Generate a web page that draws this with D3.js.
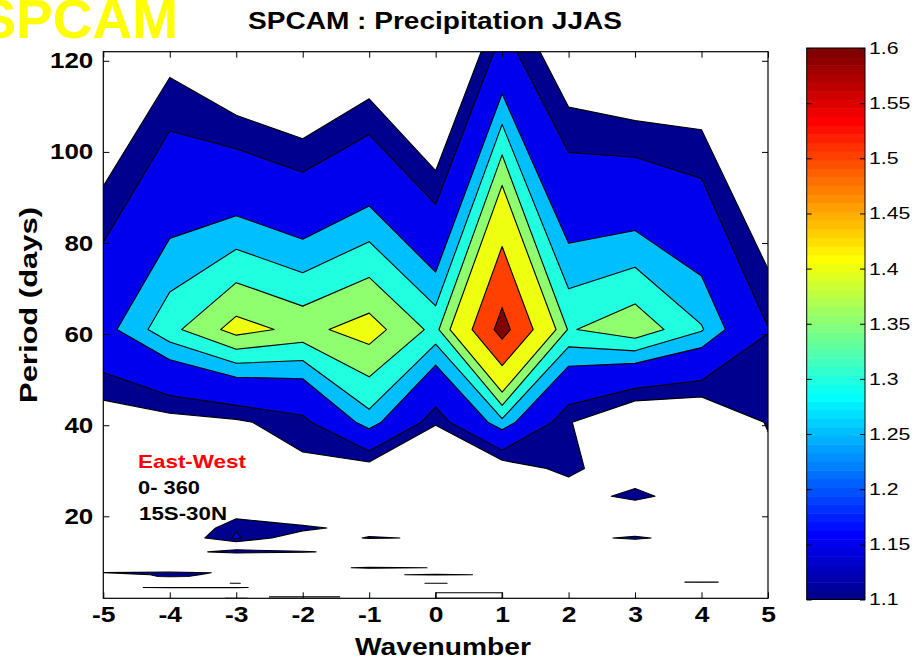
<!DOCTYPE html>
<html>
<head>
<meta charset="utf-8">
<script src="https://cdn.jsdelivr.net/npm/d3@7"></script>
<style>
  html, body { margin: 0; padding: 0; background: #fff; }
  svg { display: block; font-family: "Liberation Sans", Arial, sans-serif; }
</style>
</head>
<body>
<svg id="chart" width="916" height="659"></svg>
<script>
// ---- grid coordinates ----------------------------------------------------
const wavenumbers = [-5, -4, -3, -2, -1, 0, 1, 2, 3, 4, 5];
// periods (days) of the 61 resolved harmonics of the 122-day JJAS season
const periods = [
  122, 61, 40.667, 30.5, 24.4, 20.333, 17.429, 15.25, 13.556, 12.2,
  11.091, 10.167, 9.385, 8.714, 8.133, 7.625, 7.176, 6.778, 6.421, 6.1,
  5.81, 5.545, 5.304, 5.083, 4.88, 4.692, 4.519, 4.357, 4.207, 4.067,
  3.935, 3.813, 3.697, 3.588, 3.486, 3.389, 3.297, 3.211, 3.128, 3.05,
  2.976, 2.905, 2.837, 2.773, 2.711, 2.652, 2.596, 2.542, 2.49, 2.44,
  2.392, 2.346, 2.302, 2.259, 2.218, 2.179, 2.14, 2.103, 2.068, 2.033, 2
];

// ---- spectral power (ratio to background), one array per period row ------
const powQuiet = [1, 1, 1, 1, 1, 1, 1, 1, 1, 1, 1];
const powShort = [1, 1, 1, 1, 1, 1.1, 1.1, 1, 1, 1, 1];   // periods <= 3.2 days
const pow122 = [0.98, 1.076, 1.005, 0.97, 1.034, 0.924, 1.181, 1.039, 1.006, 1.02, 0.914];
const pow61  = [1.228, 1.335, 1.42, 1.385, 1.423, 1.335, 1.636, 1.345, 1.385, 1.305, 1.152];
const pow41  = [1.06, 1.075, 1.09, 1.131, 1.28, 1.114, 1.287, 1.105, 1.015, 1.023, 1.105];
const pow31  = [1.0, 1.0, 0.99, 1.083, 1.071, 0.9, 1.06, 1.12, 1.036, 0.98, 1.08];
const pow24  = [0.98, 0.98, 0.98, 1.0, 1.0, 0.95, 0.98, 1.055, 1.125, 1.042, 1.0];
const pow20  = [1.0, 1.0, 1.08, 1.02, 1.0, 0.98, 0.98, 1.0, 1.011, 1.0, 1.0];
const pow17  = [1.0, 1.0, 1.145, 1.12, 1.065, 1.0, 1.0, 1.0, 1.0, 1.0, 1.0];
const pow15  = [1.0, 1.035, 1.158, 1.05, 1.106, 1.093, 1.0, 1.06, 1.12, 1.037, 1.0];
const pow14  = [1.0, 1.0, 1.04, 1.0, 1.0, 1.0, 1.0, 1.0, 1.0, 1.0, 1.0];
const pow12  = [1.0, 1.06, 1.13, 1.11, 1.06, 1.0, 1.0, 1.0, 1.0, 1.0, 1.0];
const pow8_7 = [1.0, 1.0, 1.0, 1.046, 1.12, 1.097, 1.0, 1.0, 1.0, 1.0, 1.0];
const pow7_6 = [1.101, 1.13, 1.082, 1.0, 1.0, 1.0, 1.0, 1.0, 1.0, 1.0, 1.0];
const pow7_2 = [1.04, 1.125, 1.07, 1.0, 1.077, 1.12, 1.084, 1.0, 1.0, 1.0, 1.0];
const pow6_8 = [1.03, 1.115, 1.06, 1.0, 1.0, 1.0, 1.0, 1.0, 1.0, 1.0, 1.0];
const pow5_5 = [1.0, 1.0, 1.0, 1.0, 1.0, 1.0, 1.0, 1.0, 1.085, 1.105, 1.085];
const pow5_3 = [1.0, 1.08, 1.102, 1.069, 1.074, 1.105, 1.076, 1.0, 1.0, 1.0, 1.0];
const pow4_4 = [1.085, 1.11, 1.105, 1.077, 1.0, 1.0, 1.0, 1.0, 1.0, 1.0, 1.0];
const pow2_3 = [1.0, 1.0, 1.09, 1.11, 1.092, 1.1, 1.1, 1.0, 1.0, 1.0, 1.0];
const pow2_0 = [1.0, 1.05, 1.11, 1.05, 1.0, 1.1, 1.1, 1.0, 1.0, 1.0, 1.0];

const powerRows = [
  [122, pow122], [61, pow61], [40.667, pow41], [30.5, pow31], [24.4, pow24],
  [20.333, pow20], [17.429, pow17], [15.25, pow15], [13.556, pow14], [12.2, pow12],
  [8.714, pow8_7], [7.625, pow7_6], [7.176, pow7_2], [6.778, pow6_8],
  [5.545, pow5_5], [5.304, pow5_3], [4.357, pow4_4], [2.302, pow2_3], [2, pow2_0]
];

// contour levels and colour axis
const levels = [1.1, 1.15, 1.25, 1.3, 1.35, 1.4, 1.5, 1.6];
const colorTicks = [1.1, 1.15, 1.2, 1.25, 1.3, 1.35, 1.4, 1.45, 1.5, 1.55, 1.6];
const periodTicks = [20, 40, 60, 80, 100, 120];

// ---- jet colormap (64 entries) -------------------------------------------
function jetEntry(i) { // i = 1..64
  let r, g, b;
  if (i <= 8)       { r = 0; g = 0; b = (i + 8) / 16; }
  else if (i <= 24) { r = 0; g = (i - 8) / 16; b = 1; }
  else if (i <= 40) { r = (i - 24) / 16; g = 1; b = 1 - (i - 24) / 16; }
  else if (i <= 56) { r = 1; g = 1 - (i - 40) / 16; b = 0; }
  else              { r = 1 - (i - 56) / 16; g = 0; b = 0; }
  return d3.rgb(r * 255, g * 255, b * 255).formatHex();
}
const cmin = 1.1, cmax = 1.6;
function jet(v) {
  const i = Math.max(0, Math.min(63, Math.floor((v - cmin) / (cmax - cmin) * 64 + 1e-9)));
  return jetEntry(i + 1);
}

// ---- layout ---------------------------------------------------------------
const svg = d3.select("#chart");
const X0 = 103.3, X1 = 768, Y0 = 51.7, Y1 = 598.3;
const xScale = d3.scaleLinear().domain([-5, 5]).range([X0, X1]);
const yScale = d3.scaleLinear().domain([2, 122]).range([Y1, Y0]);

// ---- grid of values ---------------------------------------------------------
const nx = wavenumbers.length, ny = periods.length;
const grid = new Array(nx * ny);
periods.forEach((p, j) => {
  const hit = powerRows.find(r => Math.abs(r[0] - p) < 1e-6);
  const row = hit ? hit[1] : (p <= 3.211 ? powShort : powQuiet);
  for (let i = 0; i < nx; i++) grid[j * nx + i] = row[i];
});

// where d3.contours puts grid node 0 in its own coordinates
const probe = d3.contours().size([2, 1]).thresholds([0.5])([0, 1])[0];
let probeMin = Infinity;
probe.coordinates.forEach(poly => poly.forEach(ring => ring.forEach(pt => { probeMin = Math.min(probeMin, pt[0]); })));
const nodeOffset = probeMin - 0.5;

function waveAt(c) {
  const r = Math.max(0, Math.min(nx - 1, c - nodeOffset));
  const j = Math.floor(r), f = r - j;
  if (j >= nx - 1) return wavenumbers[nx - 1];
  return wavenumbers[j] + f * (wavenumbers[j + 1] - wavenumbers[j]);
}
function periodAt(c) {
  const r = Math.max(0, Math.min(ny - 1, c - nodeOffset));
  const j = Math.floor(r), f = r - j;
  if (j >= ny - 1) return periods[ny - 1];
  return periods[j] + f * (periods[j + 1] - periods[j]);
}
const toScreen = d3.geoTransform({
  point: function (x, y) { this.stream.point(xScale(waveAt(x)), yScale(periodAt(y))); }
});
const path = d3.geoPath(toScreen);

// ---- filled contours --------------------------------------------------------
svg.append("clipPath").attr("id", "plotClip")
  .append("rect").attr("x", X0).attr("y", Y0).attr("width", X1 - X0).attr("height", Y1 - Y0);
const plot = svg.append("g").attr("clip-path", "url(#plotClip)");

levels.forEach(lv => {
  const area = d3.contours().size([nx, ny]).thresholds([lv + 1e-9])(grid)[0];
  const line = d3.contours().size([nx, ny]).thresholds([lv])(grid)[0];
  plot.append("path").attr("d", path(area)).attr("fill", jet(lv))
    .attr("fill-rule", "evenodd").attr("stroke", "none");
  plot.append("path").attr("d", path(line)).attr("fill", "none")
    .attr("stroke", "#000").attr("stroke-width", 1.1).attr("stroke-linejoin", "round");
});

// ---- axes -------------------------------------------------------------------
function stretch(sel, k) {
  sel.each(function () {
    const w = this.getComputedTextLength();
    this.setAttribute("textLength", w * k);
    this.setAttribute("lengthAdjust", "spacingAndGlyphs");
  });
}
function styleAxis(g) {
  g.select(".domain").remove();
  g.selectAll(".tick line").attr("stroke", "#000").attr("stroke-width", 1);
  g.attr("font-family", "'Liberation Sans', Arial, sans-serif")
   .attr("font-size", 22).attr("font-weight", "bold");
  g.selectAll(".tick text").attr("fill", "#000");
}

const yAxisL = svg.append("g").attr("transform", `translate(${X0},0)`)
  .call(d3.axisLeft(yScale).tickValues(periodTicks).tickSizeInner(-6).tickSizeOuter(0).tickPadding(10));
styleAxis(yAxisL);
stretch(yAxisL.selectAll(".tick text"), 1.18);

const yAxisR = svg.append("g").attr("transform", `translate(${X1},0)`)
  .call(d3.axisRight(yScale).tickValues(periodTicks).tickSizeInner(-6).tickSizeOuter(0).tickFormat(() => ""));
styleAxis(yAxisR);

const xAxisB = svg.append("g").attr("transform", `translate(0,${Y1})`)
  .call(d3.axisBottom(xScale).tickValues(wavenumbers).tickSizeInner(-6).tickSizeOuter(0)
    .tickPadding(8).tickFormat(d => String(d)));
styleAxis(xAxisB);
stretch(xAxisB.selectAll(".tick text"), 1.2);

const xAxisT = svg.append("g").attr("transform", `translate(0,${Y0})`)
  .call(d3.axisTop(xScale).tickValues(wavenumbers).tickSizeInner(-6).tickSizeOuter(0).tickFormat(() => ""));
styleAxis(xAxisT);

svg.append("rect").attr("x", X0).attr("y", Y0).attr("width", X1 - X0).attr("height", Y1 - Y0)
  .attr("fill", "none").attr("stroke", "#000").attr("stroke-width", 1.2);

// ---- labels -----------------------------------------------------------------
function label(x, y, text, opts) {
  const t = svg.append("text").attr("x", x).attr("y", y).text(text)
    .attr("font-size", opts.size).attr("font-weight", opts.weight || "bold")
    .attr("fill", opts.fill || "#000").attr("text-anchor", opts.anchor || "start");
  if (opts.width) t.attr("textLength", opts.width).attr("lengthAdjust", "spacingAndGlyphs");
  if (opts.rotate) t.attr("transform", `rotate(${opts.rotate},${x},${y})`);
  return t;
}

label(178, 38, "SPCAM", { size: 55, fill: "#FFFF00", anchor: "end" });
label(435, 29, "SPCAM : Precipitation JJAS", { size: 23, anchor: "middle", width: 374 });
label(443, 655, "Wavenumber", { size: 23, anchor: "middle", width: 176 });
label(37, 305, "Period (days)", { size: 23, anchor: "middle", width: 196, rotate: -90 });

label(138, 468, "East-West", { size: 19, fill: "#FF0000", width: 108 });
label(138, 494, "0- 360", { size: 19, width: 62 });
label(139, 520, "15S-30N", { size: 19, width: 88 });

// ---- colorbar ---------------------------------------------------------------
const CB0 = 806.7, CB1 = 865, CBT = 48, CBB = 599.5;
const cScale = d3.scaleLinear().domain([cmin, cmax]).range([CBB, CBT]);
const cbar = svg.append("g");
d3.range(64).forEach(i => {
  const v0 = cmin + i * (cmax - cmin) / 64, v1 = cmin + (i + 1) * (cmax - cmin) / 64;
  cbar.append("rect").attr("x", CB0).attr("width", CB1 - CB0)
    .attr("y", cScale(v1)).attr("height", cScale(v0) - cScale(v1) + 0.5)
    .attr("fill", jetEntry(i + 1));
});
const cAxisR = svg.append("g").attr("transform", `translate(${CB1},0)`)
  .call(d3.axisRight(cScale).tickValues(colorTicks).tickSizeInner(-5).tickSizeOuter(0)
    .tickPadding(4).tickFormat(d3.format(".3~g")));
cAxisR.select(".domain").remove();
cAxisR.selectAll(".tick line").attr("stroke", "#000");
cAxisR.attr("font-family", "'Liberation Sans', Arial, sans-serif").attr("font-size", 17);
cAxisR.selectAll(".tick text").attr("fill", "#000");
stretch(cAxisR.selectAll(".tick text"), 1.25);
const cAxisL = svg.append("g").attr("transform", `translate(${CB0},0)`)
  .call(d3.axisLeft(cScale).tickValues(colorTicks).tickSizeInner(-5).tickSizeOuter(0).tickFormat(() => ""));
cAxisL.select(".domain").remove();
cAxisL.selectAll(".tick line").attr("stroke", "#000");
svg.append("rect").attr("x", CB0).attr("y", CBT).attr("width", CB1 - CB0).attr("height", CBB - CBT)
  .attr("fill", "none").attr("stroke", "#000").attr("stroke-width", 1);
</script>
</body>
</html>
